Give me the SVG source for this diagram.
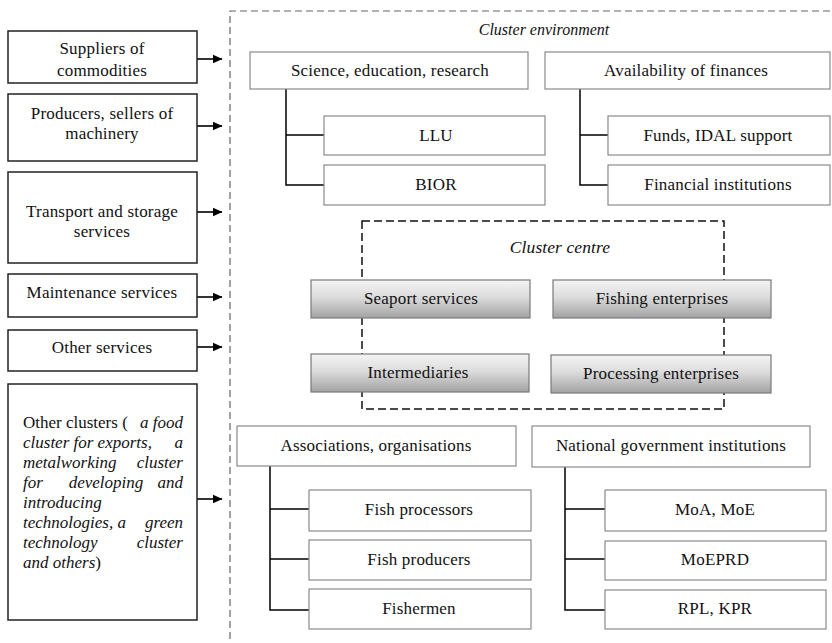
<svg xmlns="http://www.w3.org/2000/svg" width="832" height="643" viewBox="0 0 832 643">
<defs>
<linearGradient id="g" x1="0" y1="0" x2="0" y2="1">
<stop offset="0" stop-color="#f4f4f4"/>
<stop offset="0.45" stop-color="#dcdcdc"/>
<stop offset="1" stop-color="#a2a2a2"/>
</linearGradient>
<marker id="ah" markerWidth="10" markerHeight="10" refX="9" refY="5" orient="auto" markerUnits="userSpaceOnUse">
<path d="M0,0.8 L9.5,5 L0,9.2 Z" fill="#000"/>
</marker>
</defs>
<style>
text{font-family:"Liberation Serif","Times New Roman",serif;font-size:17px;letter-spacing:0.2px;fill:#111;}
.c{text-anchor:middle;}
.it{font-style:italic;}
.oc{font-size:17px;letter-spacing:0;}
.ce{font-size:16px;letter-spacing:0;}
.cc{font-size:17.5px;letter-spacing:0.1px;}
.lb{fill:#fff;stroke:#222;stroke-width:1.5;}
.rb{fill:#fff;stroke:#8a8a8a;stroke-width:1.2;}
.gb{fill:url(#g);stroke:#7a7a7a;stroke-width:1.2;}
.ar{stroke:#000;stroke-width:1.6;fill:none;marker-end:url(#ah);}
.tr{stroke:#000;stroke-width:1.5;fill:none;}
.d1{fill:none;stroke:#666;stroke-width:1.2;stroke-dasharray:7,4;}
.d2{fill:none;stroke:#111;stroke-width:1.5;stroke-dasharray:8,4;}
</style>
<rect width="832" height="643" fill="#fff"/>

<g id="frames">
<path class="d1" d="M230,650 L230,11 L840,11"/>
<rect class="d2" x="362" y="221" width="362" height="188"/>
<text class="c it ce" x="544" y="35">Cluster environment</text>
<text class="c it cc" x="560" y="253">Cluster centre</text>
</g>

<g id="connectors">
<line class="ar" x1="197" y1="59" x2="222" y2="59"/>
<line class="ar" x1="197" y1="126" x2="222" y2="126"/>
<line class="ar" x1="197" y1="212" x2="222" y2="212"/>
<line class="ar" x1="197" y1="297" x2="222" y2="297"/>
<line class="ar" x1="197" y1="347" x2="222" y2="347"/>
<line class="ar" x1="197" y1="499" x2="222" y2="499"/>
<path class="tr" d="M286,89 V185 H324 M286,135 H324"/>
<path class="tr" d="M580,89 V185 H608 M580,135 H608"/>
<path class="tr" d="M270,466 V610 H309 M270,509 H309 M270,559 H309"/>
<path class="tr" d="M565,467 V610 H605 M565,509 H605 M565,559 H605"/>
</g>

<g id="suppliers"><rect class="lb" x="8" y="31" width="189" height="52"/>
<text class="c" x="102" y="54">Suppliers of</text><text class="c" x="102" y="76">commodities</text></g>
<g id="producers"><rect class="lb" x="8" y="94" width="189" height="67"/>
<text class="c" x="102" y="119">Producers, sellers of</text><text class="c" x="102" y="139">machinery</text></g>
<g id="transport"><rect class="lb" x="8" y="172" width="189" height="91"/>
<text class="c" x="102" y="217">Transport and storage</text><text class="c" x="102" y="237">services</text></g>
<g id="maintenance"><rect class="lb" x="8" y="274" width="189" height="43"/>
<text class="c" x="102" y="298">Maintenance services</text></g>
<g id="other-services"><rect class="lb" x="8" y="330" width="189" height="41"/>
<text class="c" x="102" y="353">Other services</text></g>
<g id="other-clusters"><rect class="lb" x="8" y="384" width="189" height="236"/>
<text class="oc" x="23" y="428">Other clusters (</text><text class="oc it" x="183" y="428" text-anchor="end">a food</text>
<text class="oc it" x="23" y="448">cluster for exports,</text><text class="oc it" x="183" y="448" text-anchor="end">a</text>
<text class="oc it" x="23" y="468">metalworking</text><text class="oc it" x="183" y="468" text-anchor="end">cluster</text>
<text class="oc it" x="23" y="488">for</text><text class="oc it" x="106" y="488" text-anchor="middle">developing</text><text class="oc it" x="183" y="488" text-anchor="end">and</text>
<text class="oc it" x="23" y="508">introducing</text>
<text class="oc it" x="23" y="528">technologies, a</text><text class="oc it" x="183" y="528" text-anchor="end">green</text>
<text class="oc it" x="23" y="548">technology</text><text class="oc it" x="183" y="548" text-anchor="end">cluster</text>
<text class="oc" x="23" y="568"><tspan class="it">and others</tspan>)</text></g>

<g id="science"><rect class="rb" x="250" y="52" width="278" height="37"/>
<text class="c" x="390" y="76">Science, education, research</text></g>
<g id="llu"><rect class="rb" x="324" y="116" width="221" height="39"/>
<text class="c" x="436" y="141">LLU</text></g>
<g id="bior"><rect class="rb" x="324" y="165" width="221" height="40"/>
<text class="c" x="436" y="190">BIOR</text></g>
<g id="finances"><rect class="rb" x="545" y="52" width="285" height="37"/>
<text class="c" x="686" y="76">Availability of finances</text></g>
<g id="funds"><rect class="rb" x="608" y="116" width="222" height="39"/>
<text class="c" x="718" y="141">Funds, IDAL support</text></g>
<g id="financial-institutions"><rect class="rb" x="608" y="165" width="222" height="40"/>
<text class="c" x="718" y="190">Financial institutions</text></g>

<g id="seaport"><rect class="gb" x="311" y="280" width="219" height="38"/>
<text class="c" x="421" y="304">Seaport services</text></g>
<g id="fishing"><rect class="gb" x="553" y="280" width="218" height="38"/>
<text class="c" x="662" y="304">Fishing enterprises</text></g>
<g id="intermediaries"><rect class="gb" x="311" y="354" width="218" height="38"/>
<text class="c" x="418" y="378">Intermediaries</text></g>
<g id="processing"><rect class="gb" x="551" y="355" width="220" height="38"/>
<text class="c" x="661" y="379">Processing enterprises</text></g>

<g id="associations"><rect class="rb" x="237" y="426" width="279" height="40"/>
<text class="c" x="376" y="451">Associations, organisations</text></g>
<g id="fish-processors"><rect class="rb" x="309" y="490" width="222" height="41"/>
<text class="c" x="419" y="515">Fish processors</text></g>
<g id="fish-producers"><rect class="rb" x="309" y="540" width="222" height="40"/>
<text class="c" x="419" y="565">Fish producers</text></g>
<g id="fishermen"><rect class="rb" x="309" y="589" width="222" height="40"/>
<text class="c" x="419" y="614">Fishermen</text></g>
<g id="national"><rect class="rb" x="532" y="426" width="278" height="41"/>
<text class="c" x="671" y="451">National government institutions</text></g>
<g id="moa"><rect class="rb" x="605" y="490" width="221" height="41"/>
<text class="c" x="715" y="515">MoA, MoE</text></g>
<g id="moeprd"><rect class="rb" x="605" y="541" width="221" height="39"/>
<text class="c" x="715" y="565">MoEPRD</text></g>
<g id="rpl"><rect class="rb" x="605" y="590" width="221" height="39"/>
<text class="c" x="715" y="614">RPL, KPR</text></g>
</svg>
